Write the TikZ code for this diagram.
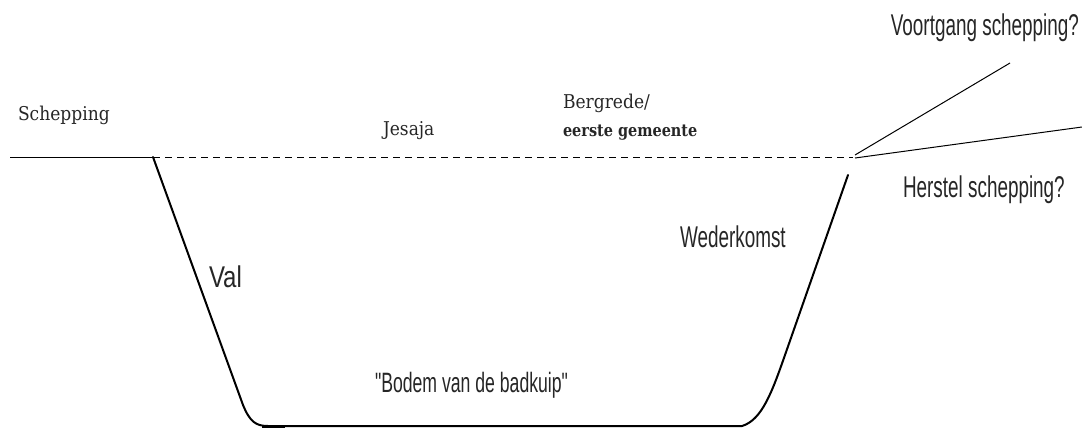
\documentclass[tikz,border=0pt]{standalone}
\usepackage{fontspec}
\newfontfamily\cond[FakeStretch=0.63]{Liberation Sans}
\newfontfamily\condval[FakeStretch=0.8]{Liberation Sans}
\newfontfamily\slab[FakeStretch=0.9]{DejaVu Serif}
\newfontfamily\slabb[FakeStretch=0.85]{DejaVu Serif}
\begin{document}
\begin{tikzpicture}[x=1pt,y=-1pt,
  lbl/.style={inner sep=0pt,outer sep=0pt,text=black!85},
  condlbl/.style={lbl,font=\cond\fontsize{30}{32}\selectfont},
  slablbl/.style={lbl,font=\slab\fontsize{19}{21}\selectfont},
  wall/.style={line width=2pt,line join=round,line cap=round},
  thin/.style={line width=1pt},
  dashline/.style={line width=1pt,dash pattern=on 7pt off 5pt}]
\useasboundingbox (0,0) rectangle (1082,429);
% coordinates
\coordinate (s0) at (10,157);
\coordinate (s1) at (153,157);
\coordinate (d1) at (853,157);
\coordinate (lw) at (243,405);
\coordinate (b0) at (268,426);
\coordinate (b1) at (742,426);
\coordinate (rw) at (785,355);
\coordinate (rt) at (848,175);
\coordinate (o1) at (855,155);
\coordinate (o2) at (1010,63);
\coordinate (h1) at (855,158);
\coordinate (h2) at (1082,127);
% lines
\draw[thin] (s0) -- (s1);
\draw[dashline] (s1) -- (d1);
\draw[wall] (s1) -- (lw) .. controls (250,422) and (256,426) .. (b0) -- (b1)
  .. controls (762,420) and (772,392) .. (rw) -- (rt);
\draw[line width=3pt] (262,426) -- (285,426);
\draw[thin] (o1) -- (o2);
\draw[thin] (h1) -- (h2);
% labels
\node[slablbl,anchor=base west] (schep) at (18,120) {Schepping};
\node[slablbl,anchor=base west] (jes) at (383,135) {Jesaja};
\node[slablbl,anchor=base west] (berg) at (563,108) {Bergrede/};
\node[lbl,anchor=base west,font=\slabb\bfseries\fontsize{17}{20}\selectfont] (eer) at (563,136) {eerste gemeente};
\node[condlbl,anchor=base east] (voort) at (1079,35) {Voortgang schepping?};
\node[condlbl,anchor=base west] (herst) at (903,197) {Herstel schepping?};
\node[condlbl,anchor=base west] (weder) at (680,247) {Wederkomst};
\node[lbl,font=\condval\fontsize{30}{32}\selectfont,anchor=base west] (val) at (209,287) {Val};
\node[condlbl,anchor=base west,font=\cond\fontsize{28}{30}\selectfont] (bodem) at (375,392) {"Bodem van de badkuip"};
\end{tikzpicture}
\end{document}
